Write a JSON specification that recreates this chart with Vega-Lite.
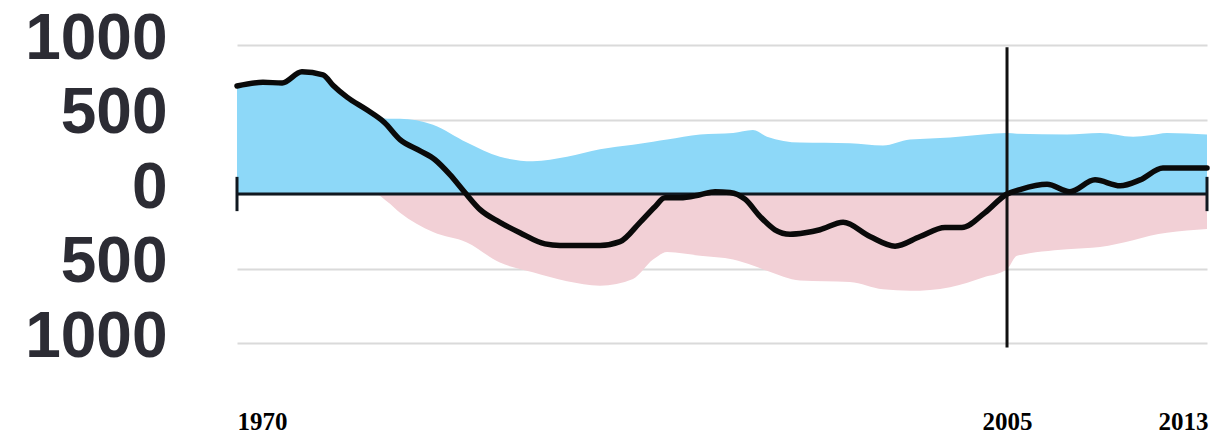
{
  "$schema": "https://vega.github.io/schema/vega-lite/v6.json",
  "autosize": {"type": "none"},
  "padding": {"left": 237, "top": 45, "right": 6, "bottom": 92},
  "width": 970,
  "height": 298,
  "background": "white",
  "config": {"view": {"stroke": null}},
  "datasets": {
    "band": [
      {"year": 1970.0, "upper": 725, "lower": 0},
      {"year": 1971.18, "upper": 750, "lower": 0},
      {"year": 1972.05, "upper": 745, "lower": 0},
      {"year": 1972.95, "upper": 820, "lower": 0},
      {"year": 1973.91, "upper": 800, "lower": 0},
      {"year": 1974.36, "upper": 730, "lower": 0},
      {"year": 1975.0, "upper": 650, "lower": 0},
      {"year": 1975.9, "upper": 565, "lower": 0},
      {"year": 1976.27, "upper": 540, "lower": 0},
      {"year": 1976.82, "upper": 505, "lower": -50},
      {"year": 1977.41, "upper": 505, "lower": -125},
      {"year": 1978.91, "upper": 465, "lower": -255},
      {"year": 1980.45, "upper": 345, "lower": -325},
      {"year": 1981.95, "upper": 250, "lower": -460},
      {"year": 1983.45, "upper": 220, "lower": -525},
      {"year": 1985.0, "upper": 250, "lower": -585},
      {"year": 1986.5, "upper": 300, "lower": -615},
      {"year": 1988.0, "upper": 330, "lower": -570},
      {"year": 1988.91, "upper": 350, "lower": -440},
      {"year": 1989.55, "upper": 365, "lower": -390},
      {"year": 1991.05, "upper": 400, "lower": -415},
      {"year": 1992.55, "upper": 410, "lower": -440},
      {"year": 1993.45, "upper": 430, "lower": -480},
      {"year": 1994.09, "upper": 385, "lower": -515},
      {"year": 1995.59, "upper": 345, "lower": -580},
      {"year": 1997.86, "upper": 340, "lower": -590},
      {"year": 1999.36, "upper": 325, "lower": -640},
      {"year": 2000.59, "upper": 365, "lower": -650},
      {"year": 2002.41, "upper": 380, "lower": -625},
      {"year": 2003.91, "upper": 400, "lower": -560},
      {"year": 2005.0, "upper": 410, "lower": -505},
      {"year": 2005.45, "upper": 405, "lower": -415},
      {"year": 2007.73, "upper": 400, "lower": -370},
      {"year": 2009.23, "upper": 410, "lower": -355},
      {"year": 2010.73, "upper": 385, "lower": -310},
      {"year": 2011.5, "upper": 395, "lower": -280},
      {"year": 2012.27, "upper": 410, "lower": -260},
      {"year": 2014.09, "upper": 400, "lower": -235}
    ],
    "line": [
      {"year": 1970.0, "value": 725},
      {"year": 1971.18, "value": 750},
      {"year": 1972.05, "value": 745},
      {"year": 1972.95, "value": 820},
      {"year": 1973.91, "value": 800},
      {"year": 1974.36, "value": 730},
      {"year": 1975.0, "value": 650},
      {"year": 1975.9, "value": 565},
      {"year": 1976.7, "value": 480},
      {"year": 1977.41, "value": 365},
      {"year": 1978.32, "value": 290},
      {"year": 1979.0, "value": 230},
      {"year": 1979.68, "value": 130},
      {"year": 1980.36, "value": 10},
      {"year": 1981.05, "value": -105},
      {"year": 1981.95, "value": -190},
      {"year": 1982.86, "value": -260},
      {"year": 1984.0, "value": -335},
      {"year": 1984.68, "value": -345},
      {"year": 1986.5, "value": -345},
      {"year": 1987.41, "value": -320},
      {"year": 1988.32, "value": -190},
      {"year": 1989.0, "value": -85},
      {"year": 1989.45, "value": -25},
      {"year": 1990.14, "value": -25},
      {"year": 1991.05, "value": -5},
      {"year": 1991.73, "value": 15},
      {"year": 1992.41, "value": 10},
      {"year": 1993.09, "value": -35},
      {"year": 1993.77, "value": -150},
      {"year": 1994.45, "value": -240},
      {"year": 1995.14, "value": -270},
      {"year": 1995.82, "value": -260},
      {"year": 1996.5, "value": -240},
      {"year": 1997.55, "value": -190},
      {"year": 1998.77, "value": -285},
      {"year": 1999.91, "value": -350},
      {"year": 2001.05, "value": -285},
      {"year": 2002.18, "value": -225},
      {"year": 2002.95, "value": -225},
      {"year": 2004.0, "value": -125},
      {"year": 2005.0, "value": 0},
      {"year": 2005.59, "value": 30},
      {"year": 2006.82, "value": 65},
      {"year": 2007.86, "value": 15},
      {"year": 2009.0, "value": 95},
      {"year": 2010.14, "value": 55},
      {"year": 2011.05, "value": 95},
      {"year": 2012.09, "value": 175},
      {"year": 2014.09, "value": 175}
    ],
    "zero": [{"start": 1970.0, "end": 2014.09, "level": 0}],
    "ends": [
      {"year": 1970.0, "lo": -115, "hi": 115},
      {"year": 2014.09, "lo": -115, "hi": 115}
    ],
    "marker": [{"year": 2005, "lo": -1030, "hi": 985}]
  },
  "layer": [
    {
      "data": {"name": "band"},
      "mark": {"type": "area", "color": "#8dd8f8", "interpolate": "monotone"},
      "encoding": {
        "x": {
          "field": "year", "type": "quantitative",
          "scale": {"domain": [1970, 2014.09], "nice": false, "zero": false},
          "axis": {
            "values": [1970, 2005, 2013],
            "labelExpr": "format(datum.value, 'd')",
            "title": null, "domain": false, "ticks": false, "grid": false,
            "labelFont": "Liberation Serif", "labelFontWeight": "bold",
            "labelFontSize": 25, "labelColor": "#000000",
            "labelFlush": true, "labelPadding": 66
          }
        },
        "y": {
          "field": "upper", "type": "quantitative",
          "scale": {"domain": [-1000, 1000], "nice": false},
          "axis": {
            "values": [-1000, -500, 0, 500, 1000],
            "labelExpr": "format(abs(datum.value), 'd')",
            "title": null, "domain": false, "ticks": false,
            "grid": true, "gridColor": "#dadada", "gridWidth": 2,
            "labelFont": "Liberation Sans", "labelFontSize": 64,
            "labelFontWeight": "bold",
            "labelColor": "#2c2c34", "labelPadding": 70,
            "labelBaseline": "middle", "labelOffset": -6
          }
        },
        "y2": {"datum": 0}
      }
    },
    {
      "data": {"name": "band"},
      "mark": {"type": "area", "color": "#f2d0d6", "interpolate": "monotone"},
      "encoding": {
        "x": {"field": "year", "type": "quantitative"},
        "y": {"field": "lower", "type": "quantitative"},
        "y2": {"datum": 0}
      }
    },
    {
      "data": {"name": "zero"},
      "mark": {"type": "rule", "color": "#101820", "strokeWidth": 3},
      "encoding": {
        "x": {"field": "start", "type": "quantitative"},
        "x2": {"field": "end"},
        "y": {"field": "level", "type": "quantitative"}
      }
    },
    {
      "data": {"name": "ends"},
      "mark": {"type": "rule", "color": "#101820", "strokeWidth": 3},
      "encoding": {
        "x": {"field": "year", "type": "quantitative"},
        "y": {"field": "lo", "type": "quantitative"},
        "y2": {"field": "hi"}
      }
    },
    {
      "data": {"name": "marker"},
      "mark": {"type": "rule", "color": "#111111", "strokeWidth": 3},
      "encoding": {
        "x": {"field": "year", "type": "quantitative"},
        "y": {"field": "lo", "type": "quantitative"},
        "y2": {"field": "hi"}
      }
    },
    {
      "data": {"name": "line"},
      "mark": {"type": "line", "color": "#0a0a0a", "strokeWidth": 5.5, "interpolate": "monotone", "strokeJoin": "round", "strokeCap": "round"},
      "encoding": {
        "x": {"field": "year", "type": "quantitative"},
        "y": {"field": "value", "type": "quantitative"}
      }
    }
  ]
}
